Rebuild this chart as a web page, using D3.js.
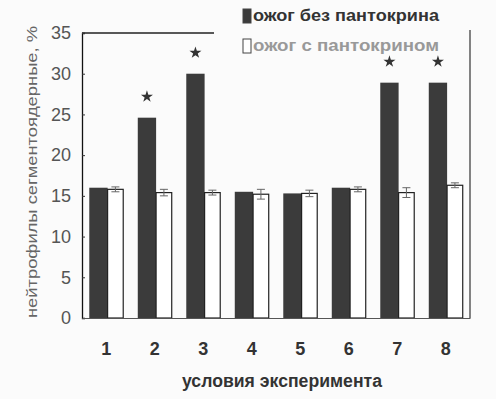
<!DOCTYPE html>
<html>
<head>
<meta charset="utf-8">
<script src="https://cdn.jsdelivr.net/npm/d3@7"></script>
<style>
  html, body { margin: 0; padding: 0; background: #fbfbfb; }
  svg { display: block; }
  text { font-family: "Liberation Sans", Arial, sans-serif; }
</style>
</head>
<body>
<svg id="chart" width="496" height="399"></svg>
<script>
// Experimental conditions (groups 1..8)
const categories = ["1", "2", "3", "4", "5", "6", "7", "8"];
// Segmented neutrophils, % — burn without pantocrine
const burnValues = [16.0, 24.6, 30.0, 15.5, 15.3, 16.0, 28.9, 28.9];
// Segmented neutrophils, % — burn with pantocrine
const pantoValues = [15.8, 15.4, 15.4, 15.2, 15.3, 15.8, 15.4, 16.3];
// Standard errors shown on the pantocrine bars
const pantoErrors = [0.3, 0.4, 0.3, 0.6, 0.4, 0.3, 0.6, 0.3];
// Groups marked as significantly different
const significant = ["2", "3", "7", "8"];
const yTicks = [0, 5, 10, 15, 20, 25, 30, 35];
const seriesNames = ["ожог без пантокрина", "ожог с пантокрином"];
const xTitle = "условия эксперимента";
const yTitle = "нейтрофилы сегментоядерные, %";

const svg = d3.select("#chart");
const plot = { left: 82, right: 470, top: 33, bottom: 318 };

const x = d3.scaleBand().domain(categories)
  .range([plot.left, plot.right]).paddingInner(0.3).paddingOuter(0.15);
const y = d3.scaleLinear().domain([0, 35]).range([plot.bottom, plot.top]);

const bw = x.bandwidth();
const darkW = bw * 0.54;
const lightW = bw - darkW;

const rows = categories.map((c, i) => ({
  cat: c, burn: burnValues[i], panto: pantoValues[i], err: pantoErrors[i]
}));

// frame: top edge (left part) and right edge
svg.append("line").attr("x1", plot.left).attr("x2", 214)
  .attr("y1", plot.top).attr("y2", plot.top)
  .attr("stroke", "#222").attr("stroke-width", 1.5);
svg.append("line").attr("x1", plot.right).attr("x2", plot.right)
  .attr("y1", 30).attr("y2", plot.bottom)
  .attr("stroke", "#333").attr("stroke-width", 1.2);

// bars without pantocrine
svg.append("g").selectAll("rect").data(rows).join("rect")
  .attr("x", d => x(d.cat))
  .attr("y", d => y(d.burn))
  .attr("width", darkW)
  .attr("height", d => y(0) - y(d.burn))
  .attr("fill", "#3b3b3b");

// bars with pantocrine
svg.append("g").selectAll("rect").data(rows).join("rect")
  .attr("x", d => x(d.cat) + darkW)
  .attr("y", d => y(d.panto))
  .attr("width", lightW)
  .attr("height", d => y(0) - y(d.panto))
  .attr("fill", "#ffffff")
  .attr("stroke", "#222").attr("stroke-width", 1.2);

// error bars on pantocrine bars
const eg = svg.append("g").attr("stroke", "#666").attr("stroke-width", 1);
rows.forEach(d => {
  const cx = x(d.cat) + darkW + lightW / 2;
  eg.append("line").attr("x1", cx).attr("x2", cx)
    .attr("y1", y(d.panto + d.err)).attr("y2", y(d.panto - d.err));
  [d.panto + d.err, d.panto - d.err].forEach(v => {
    eg.append("line").attr("x1", cx - 4).attr("x2", cx + 4)
      .attr("y1", y(v)).attr("y2", y(v));
  });
});

// significance stars
const star = d3.symbol().type(d3.symbolStar).size(45);
svg.append("g").selectAll("path")
  .data(rows.filter(d => significant.includes(d.cat))).join("path")
  .attr("transform", d => `translate(${x(d.cat) + darkW / 2},${y(d.burn) - 21})`)
  .attr("d", star)
  .attr("fill", "#333");

// y axis
const yAxis = svg.append("g").attr("transform", `translate(${plot.left},0)`)
  .call(d3.axisLeft(y).tickValues(yTicks).tickSize(-3).tickPadding(11));
yAxis.select(".domain").attr("stroke", "#111").attr("stroke-width", 1.3);
yAxis.selectAll(".tick line").attr("stroke", "#333");
yAxis.selectAll(".tick text")
  .attr("font-size", 18)
  .attr("fill", "#555").attr("font-family", "Liberation Sans, Arial, sans-serif");

// x axis
const xAxis = svg.append("g").attr("transform", `translate(0,${plot.bottom})`)
  .call(d3.axisBottom(x).tickSize(0).tickPadding(24));
xAxis.select(".domain").attr("stroke", "#555").attr("stroke-width", 1.2);
xAxis.selectAll(".tick text")
  .attr("font-size", 18).attr("font-weight", "bold")
  .attr("fill", "#333").attr("font-family", "Liberation Sans, Arial, sans-serif");

// axis titles
svg.append("text").attr("x", 282).attr("y", 387)
  .attr("text-anchor", "middle").attr("font-size", 18).attr("font-weight", "bold")
  .attr("fill", "#333").attr("textLength", 200).attr("lengthAdjust", "spacingAndGlyphs")
  .text(xTitle);
svg.append("text")
  .attr("transform", "translate(37,172) rotate(-90)")
  .attr("text-anchor", "middle").attr("font-size", 15)
  .attr("fill", "#666").attr("textLength", 292).attr("lengthAdjust", "spacingAndGlyphs")
  .text(yTitle);

// legend
const legend = svg.append("g");
const legendRows = [
  { name: seriesNames[0], fill: "#3b3b3b", text: "#333", y: 16 },
  { name: seriesNames[1], fill: "#ffffff", text: "#999", y: 46 }
];
legendRows.forEach(r => {
  legend.append("rect").attr("x", 243).attr("y", r.y - 7)
    .attr("width", 8).attr("height", 14)
    .attr("fill", r.fill).attr("stroke", "#444").attr("stroke-width", 1);
  legend.append("text").attr("x", 253).attr("y", r.y + 5)
    .attr("font-size", 17).attr("font-weight", "bold").attr("fill", r.text)
    .attr("textLength", 186).attr("lengthAdjust", "spacingAndGlyphs")
    .text(r.name);
});
</script>
</body>
</html>
